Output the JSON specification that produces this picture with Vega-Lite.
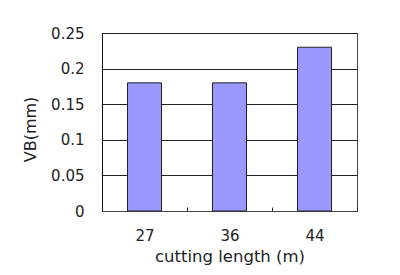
{
  "$schema": "https://vega.github.io/schema/vega-lite/v6.json",
  "autosize": "none",
  "width": 255,
  "height": 178,
  "padding": {"left": 102, "top": 33, "right": 43, "bottom": 64},
  "background": "white",
  "config": {
    "font": "DejaVu Sans",
    "view": {"stroke": "#444", "strokeWidth": 1},
    "axis": {"labelFont": "DejaVu Sans", "titleFont": "DejaVu Sans", "labelColor": "#222", "titleColor": "#222", "titleFontWeight": "normal"}
  },
  "data": {"values": [
    {"length": "27", "VB": 0.18},
    {"length": "36", "VB": 0.18},
    {"length": "44", "VB": 0.23}
  ]},
  "mark": {"type": "bar", "color": "#9999FF", "stroke": "#222", "strokeWidth": 1, "width": {"band": 0.4}},
  "encoding": {
    "x": {"field": "length", "type": "ordinal", "sort": null,
      "scale": {"paddingInner": 0, "paddingOuter": 0},
      "axis": {"title": "cutting length (m)", "labelAngle": 0, "labelFontSize": 15, "titleFontSize": 16.5, "labelPadding": 21, "titlePadding": 5, "ticks": true, "tickSize": -4, "tickColor": "#222", "tickBand": "extent", "domainColor": "#444", "grid": false}},
    "y": {"field": "VB", "type": "quantitative",
      "scale": {"domain": [0, 0.25], "nice": false},
      "axis": {"title": "VB(mm)", "values": [0, 0.05, 0.1, 0.15, 0.2, 0.25], "format": ".2~f", "labelOverlap": false, "labelFontSize": 15, "titleFontSize": 16, "titleY": 96, "labelPadding": 18, "ticks": false, "titlePadding": 12, "domainColor": "#111", "gridColor": "#222", "gridOpacity": 1, "labelFlush": false}}
  }
}
